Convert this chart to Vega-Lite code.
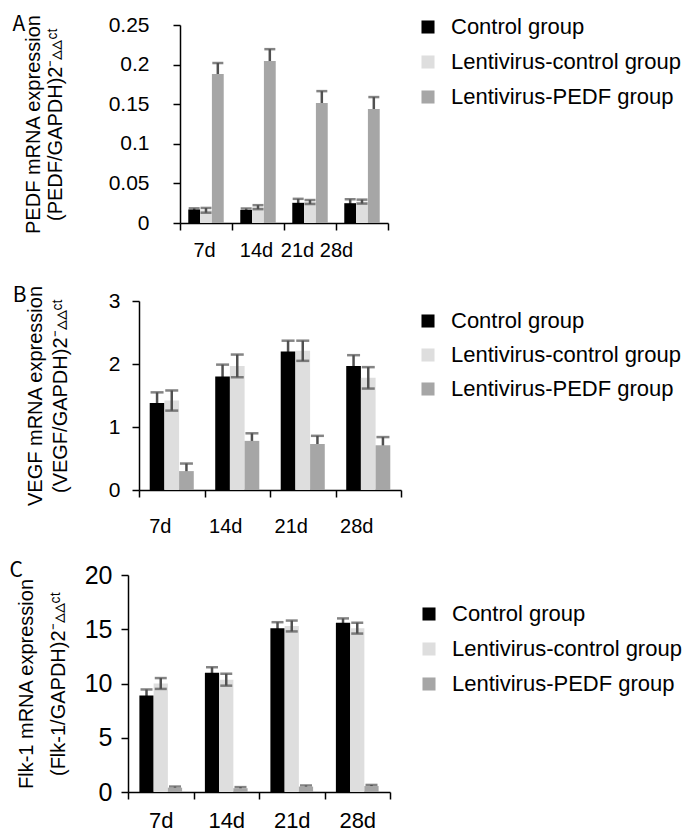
{
  "$schema": "https://vega.github.io/schema/vega-lite/v6.json",
  "background": "white",
  "padding": {"left": 2, "top": 13, "right": 0, "bottom": 0},
  "spacing": 24,
  "datasets": {
    "pedf": [
      {"day": "7d", "group": "Control group", "value": 0.017, "err": 0.0015},
      {"day": "14d", "group": "Control group", "value": 0.0165, "err": 0.0018},
      {"day": "21d", "group": "Control group", "value": 0.0255, "err": 0.005},
      {"day": "28d", "group": "Control group", "value": 0.025, "err": 0.005},
      {"day": "7d", "group": "Lentivirus-control group", "value": 0.016, "err": 0.003},
      {"day": "14d", "group": "Lentivirus-control group", "value": 0.02, "err": 0.0025},
      {"day": "21d", "group": "Lentivirus-control group", "value": 0.0265, "err": 0.0025},
      {"day": "28d", "group": "Lentivirus-control group", "value": 0.027, "err": 0.0025},
      {"day": "7d", "group": "Lentivirus-PEDF group", "value": 0.188, "err": 0.014},
      {"day": "14d", "group": "Lentivirus-PEDF group", "value": 0.2045, "err": 0.015},
      {"day": "21d", "group": "Lentivirus-PEDF group", "value": 0.1515, "err": 0.015},
      {"day": "28d", "group": "Lentivirus-PEDF group", "value": 0.144, "err": 0.015}
    ],
    "vegf": [
      {"day": "7d", "group": "Control group", "value": 1.38, "err": 0.17},
      {"day": "14d", "group": "Control group", "value": 1.8, "err": 0.19},
      {"day": "21d", "group": "Control group", "value": 2.2, "err": 0.17},
      {"day": "28d", "group": "Control group", "value": 1.97, "err": 0.17},
      {"day": "7d", "group": "Lentivirus-control group", "value": 1.42, "err": 0.16},
      {"day": "14d", "group": "Lentivirus-control group", "value": 1.97, "err": 0.18},
      {"day": "21d", "group": "Lentivirus-control group", "value": 2.21, "err": 0.16},
      {"day": "28d", "group": "Lentivirus-control group", "value": 1.78, "err": 0.17},
      {"day": "7d", "group": "Lentivirus-PEDF group", "value": 0.3, "err": 0.12},
      {"day": "14d", "group": "Lentivirus-PEDF group", "value": 0.78, "err": 0.12},
      {"day": "21d", "group": "Lentivirus-PEDF group", "value": 0.73, "err": 0.13},
      {"day": "28d", "group": "Lentivirus-PEDF group", "value": 0.71, "err": 0.13}
    ],
    "flk": [
      {"day": "7d", "group": "Control group", "value": 8.9, "err": 0.55},
      {"day": "14d", "group": "Control group", "value": 11.0, "err": 0.5},
      {"day": "21d", "group": "Control group", "value": 15.1, "err": 0.55},
      {"day": "28d", "group": "Control group", "value": 15.6, "err": 0.4},
      {"day": "7d", "group": "Lentivirus-control group", "value": 10.0, "err": 0.5},
      {"day": "14d", "group": "Lentivirus-control group", "value": 10.35, "err": 0.55},
      {"day": "21d", "group": "Lentivirus-control group", "value": 15.3, "err": 0.5},
      {"day": "28d", "group": "Lentivirus-control group", "value": 15.1, "err": 0.5},
      {"day": "7d", "group": "Lentivirus-PEDF group", "value": 0.4, "err": 0.1},
      {"day": "14d", "group": "Lentivirus-PEDF group", "value": 0.35, "err": 0.1},
      {"day": "21d", "group": "Lentivirus-PEDF group", "value": 0.5, "err": 0.1},
      {"day": "28d", "group": "Lentivirus-PEDF group", "value": 0.55, "err": 0.1}
    ]
  },
  "vconcat": [
    {"spacing": 0, "hconcat": [
    {"width": 7, "height": 1, "data": {"values": [{"s": 0}]}, "mark": {"type": "point", "opacity": 0}, "encoding": {}},
    {
      "title": {"text": "A", "orient": "left", "anchor": "end", "angle": 0, "align": "right", "baseline": "top", "offset": -15, "frame": "bounds", "font": "Noto Sans CJK SC", "fontSize": 21, "fontWeight": "normal", "color": "black"},
      "width": 208,
      "height": 198,
      "data": {"name": "pedf"},
      "transform": [
        {"calculate": "datum.value - datum.err", "as": "lo"},
        {"calculate": "datum.value + datum.err", "as": "hi"}
      ],
      "encoding": {
        "x": {"field": "day", "type": "nominal", "sort": ["7d", "14d", "21d", "28d"], "scale": {"paddingInner": 0, "paddingOuter": 0},
              "axis": {"title": null, "labelAngle": 0, "tickBand": "extent", "tickSize": 7, "labelPadding": 10,
                       "labelOffset": {"condition": [{"test": "datum.value === '21d'", "value": -13}, {"test": "datum.value === '28d'", "value": -26}], "value": -2}}},
        "xOffset": {"field": "group", "type": "nominal", "sort": ["Control group", "Lentivirus-control group", "Lentivirus-PEDF group"], "scale": {"paddingOuter": 0.7}}
      },
      "layer": [
        {
          "transform": [{"filter": "datum.group !== 'Lentivirus-control group'"}],
          "mark": {"type": "rule", "color": "#505050", "strokeWidth": 2.5},
          "encoding": {
            "y": {"field": "lo", "type": "quantitative", "scale": {"domain": [0, 0.25], "nice": false}, "title": ["PEDF mRNA expression", "(PEDF/GAPDH)2⁻▵▵ᶜᵗ"],
                  "axis": {"values": [0, 0.05, 0.1, 0.15, 0.2, 0.25], "format": "~g", "labelOverlap": false, "tickSize": 7, "labelPadding": 24, "titlePadding": 43, "titleLineHeight": 22}},
            "y2": {"field": "hi"}
          }
        },
        {
          "transform": [{"filter": "datum.group !== 'Lentivirus-control group'"}],
          "mark": {"type": "tick", "color": "#505050", "thickness": 2.5, "size": 11},
          "encoding": {
            "y": {"field": "hi", "type": "quantitative", "scale": {"domain": [0, 0.25], "nice": false}, "title": ["PEDF mRNA expression", "(PEDF/GAPDH)2⁻▵▵ᶜᵗ"],
                  "axis": {"values": [0, 0.05, 0.1, 0.15, 0.2, 0.25], "format": "~g", "labelOverlap": false, "tickSize": 7, "labelPadding": 24, "titlePadding": 43, "titleLineHeight": 22}}
          }
        },
        {
          "mark": {"type": "bar"},
          "encoding": {
            "y": {"field": "value", "type": "quantitative", "scale": {"domain": [0, 0.25], "nice": false}, "title": ["PEDF mRNA expression", "(PEDF/GAPDH)2⁻▵▵ᶜᵗ"],
                  "axis": {"values": [0, 0.05, 0.1, 0.15, 0.2, 0.25], "format": "~g", "labelOverlap": false, "tickSize": 7, "labelPadding": 24, "titlePadding": 43, "titleLineHeight": 22}},
            "color": {"field": "group", "type": "nominal", "sort": ["Control group", "Lentivirus-control group", "Lentivirus-PEDF group"],
                      "scale": {"domain": ["Control group", "Lentivirus-control group", "Lentivirus-PEDF group"], "range": ["#000000", "#dedede", "#a6a6a6"]},
                      "legend": {"title": null, "orient": "none", "legendX": 412, "legendY": -9, "rowPadding": 13}}
          }
        },
        {
          "transform": [{"filter": "datum.group === 'Lentivirus-control group'"}],
          "mark": {"type": "rule", "color": "#505050", "strokeWidth": 2.5},
          "encoding": {
            "y": {"field": "lo", "type": "quantitative", "scale": {"domain": [0, 0.25], "nice": false}, "title": ["PEDF mRNA expression", "(PEDF/GAPDH)2⁻▵▵ᶜᵗ"],
                  "axis": {"values": [0, 0.05, 0.1, 0.15, 0.2, 0.25], "format": "~g", "labelOverlap": false, "tickSize": 7, "labelPadding": 24, "titlePadding": 43, "titleLineHeight": 22}},
            "y2": {"field": "hi"}
          }
        },
        {
          "transform": [{"filter": "datum.group === 'Lentivirus-control group'"}],
          "mark": {"type": "tick", "color": "#505050", "thickness": 2.5, "size": 11},
          "encoding": {
            "y": {"field": "hi", "type": "quantitative", "scale": {"domain": [0, 0.25], "nice": false}, "title": ["PEDF mRNA expression", "(PEDF/GAPDH)2⁻▵▵ᶜᵗ"],
                  "axis": {"values": [0, 0.05, 0.1, 0.15, 0.2, 0.25], "format": "~g", "labelOverlap": false, "tickSize": 7, "labelPadding": 24, "titlePadding": 43, "titleLineHeight": 22}}
          }
        },
        {
          "transform": [{"filter": "datum.group === 'Lentivirus-control group'"}],
          "mark": {"type": "tick", "color": "#505050", "thickness": 2.5, "size": 11},
          "encoding": {
            "y": {"field": "lo", "type": "quantitative", "scale": {"domain": [0, 0.25], "nice": false}, "title": ["PEDF mRNA expression", "(PEDF/GAPDH)2⁻▵▵ᶜᵗ"],
                  "axis": {"values": [0, 0.05, 0.1, 0.15, 0.2, 0.25], "format": "~g", "labelOverlap": false, "tickSize": 7, "labelPadding": 24, "titlePadding": 43, "titleLineHeight": 22}}
          }
        }
      ]
    }]},
    {"spacing": 0, "hconcat": [
    {"width": 7, "height": 1, "data": {"values": [{"s": 0}]}, "mark": {"type": "point", "opacity": 0}, "encoding": {}},
    {
      "title": {"text": "B", "orient": "left", "anchor": "end", "angle": 0, "align": "right", "baseline": "top", "offset": -15, "frame": "bounds", "font": "Noto Sans CJK SC", "fontSize": 21, "fontWeight": "normal", "color": "black"},
      "width": 262,
      "height": 189,
      "data": {"name": "vegf"},
      "transform": [
        {"calculate": "datum.value - datum.err", "as": "lo"},
        {"calculate": "datum.value + datum.err", "as": "hi"}
      ],
      "encoding": {
        "x": {"field": "day", "type": "nominal", "sort": ["7d", "14d", "21d", "28d"], "scale": {"paddingInner": 0, "paddingOuter": 0},
              "axis": {"title": null, "labelAngle": 0, "tickBand": "extent", "tickSize": 7, "labelPadding": 19, "labelOffset": -12}},
        "xOffset": {"field": "group", "type": "nominal", "sort": ["Control group", "Lentivirus-control group", "Lentivirus-PEDF group"], "scale": {"paddingOuter": 0.73}}
      },
      "layer": [
        {
          "transform": [{"filter": "datum.group !== 'Lentivirus-control group'"}],
          "mark": {"type": "rule", "color": "#505050", "strokeWidth": 2.5},
          "encoding": {
            "y": {"field": "lo", "type": "quantitative", "scale": {"domain": [0, 3], "nice": false}, "title": ["VEGF mRNA expression", "(VEGF/GAPDH)2⁻▵▵ᶜᵗ"],
                  "axis": {"values": [0, 1, 2, 3], "format": "~g", "labelOverlap": false, "tickSize": 7, "labelPadding": 12, "titlePadding": 38, "titleLineHeight": 25}},
            "y2": {"field": "hi"}
          }
        },
        {
          "transform": [{"filter": "datum.group !== 'Lentivirus-control group'"}],
          "mark": {"type": "tick", "color": "#505050", "thickness": 2.5, "size": 13},
          "encoding": {
            "y": {"field": "hi", "type": "quantitative", "scale": {"domain": [0, 3], "nice": false}, "title": ["VEGF mRNA expression", "(VEGF/GAPDH)2⁻▵▵ᶜᵗ"],
                  "axis": {"values": [0, 1, 2, 3], "format": "~g", "labelOverlap": false, "tickSize": 7, "labelPadding": 12, "titlePadding": 38, "titleLineHeight": 25}}
          }
        },
        {
          "mark": {"type": "bar"},
          "encoding": {
            "y": {"field": "value", "type": "quantitative", "scale": {"domain": [0, 3], "nice": false}, "title": ["VEGF mRNA expression", "(VEGF/GAPDH)2⁻▵▵ᶜᵗ"],
                  "axis": {"values": [0, 1, 2, 3], "format": "~g", "labelOverlap": false, "tickSize": 7, "labelPadding": 12, "titlePadding": 38, "titleLineHeight": 25}},
            "color": {"field": "group", "type": "nominal", "sort": ["Control group", "Lentivirus-control group", "Lentivirus-PEDF group"],
                      "scale": {"domain": ["Control group", "Lentivirus-control group", "Lentivirus-PEDF group"], "range": ["#000000", "#dedede", "#a6a6a6"]},
                      "legend": {"title": null, "orient": "none", "legendX": 412, "legendY": 9, "rowPadding": 12}}
          }
        },
        {
          "transform": [{"filter": "datum.group === 'Lentivirus-control group'"}],
          "mark": {"type": "rule", "color": "#505050", "strokeWidth": 2.5},
          "encoding": {
            "y": {"field": "lo", "type": "quantitative", "scale": {"domain": [0, 3], "nice": false}, "title": ["VEGF mRNA expression", "(VEGF/GAPDH)2⁻▵▵ᶜᵗ"],
                  "axis": {"values": [0, 1, 2, 3], "format": "~g", "labelOverlap": false, "tickSize": 7, "labelPadding": 12, "titlePadding": 38, "titleLineHeight": 25}},
            "y2": {"field": "hi"}
          }
        },
        {
          "transform": [{"filter": "datum.group === 'Lentivirus-control group'"}],
          "mark": {"type": "tick", "color": "#505050", "thickness": 2.5, "size": 13},
          "encoding": {
            "y": {"field": "hi", "type": "quantitative", "scale": {"domain": [0, 3], "nice": false}, "title": ["VEGF mRNA expression", "(VEGF/GAPDH)2⁻▵▵ᶜᵗ"],
                  "axis": {"values": [0, 1, 2, 3], "format": "~g", "labelOverlap": false, "tickSize": 7, "labelPadding": 12, "titlePadding": 38, "titleLineHeight": 25}}
          }
        },
        {
          "transform": [{"filter": "datum.group === 'Lentivirus-control group'"}],
          "mark": {"type": "tick", "color": "#505050", "thickness": 2.5, "size": 13},
          "encoding": {
            "y": {"field": "lo", "type": "quantitative", "scale": {"domain": [0, 3], "nice": false}, "title": ["VEGF mRNA expression", "(VEGF/GAPDH)2⁻▵▵ᶜᵗ"],
                  "axis": {"values": [0, 1, 2, 3], "format": "~g", "labelOverlap": false, "tickSize": 7, "labelPadding": 12, "titlePadding": 38, "titleLineHeight": 25}}
          }
        }
      ]
    }]},
    {"spacing": 0, "hconcat": [
    {"width": 1, "height": 1, "data": {"values": [{"s": 0}]}, "mark": {"type": "point", "opacity": 0}, "encoding": {}},
    {
      "title": {"text": "C", "orient": "left", "anchor": "end", "angle": 0, "align": "right", "baseline": "top", "offset": -20, "dy": -3, "frame": "bounds", "font": "Noto Sans CJK SC", "fontSize": 21, "fontWeight": "normal", "color": "black"},
      "width": 262,
      "height": 217,
      "data": {"name": "flk"},
      "transform": [
        {"calculate": "datum.value - datum.err", "as": "lo"},
        {"calculate": "datum.value + datum.err", "as": "hi"}
      ],
      "encoding": {
        "x": {"field": "day", "type": "nominal", "sort": ["7d", "14d", "21d", "28d"], "scale": {"paddingInner": 0, "paddingOuter": 0},
              "axis": {"title": null, "labelAngle": 0, "tickBand": "extent", "tickSize": 7, "labelPadding": 11, "labelFontSize": 22}},
        "xOffset": {"field": "group", "type": "nominal", "sort": ["Control group", "Lentivirus-control group", "Lentivirus-PEDF group"], "scale": {"paddingOuter": 0.8}}
      },
      "layer": [
        {
          "transform": [{"filter": "datum.group !== 'Lentivirus-control group'"}],
          "mark": {"type": "rule", "color": "#505050", "strokeWidth": 2.5},
          "encoding": {
            "y": {"field": "lo", "type": "quantitative", "scale": {"domain": [0, 20], "nice": false}, "title": ["Flk-1 mRNA expression", "(Flk-1/GAPDH)2⁻▵▵ᶜᵗ"],
                  "axis": {"values": [0, 5, 10, 15, 20], "format": "~g", "labelOverlap": false, "labelFontSize": 25, "tickSize": 7, "labelPadding": 9, "titlePadding": 16, "titleLineHeight": 32}},
            "y2": {"field": "hi"}
          }
        },
        {
          "transform": [{"filter": "datum.group !== 'Lentivirus-control group'"}],
          "mark": {"type": "tick", "color": "#505050", "thickness": 2.5, "size": 12},
          "encoding": {
            "y": {"field": "hi", "type": "quantitative", "scale": {"domain": [0, 20], "nice": false}, "title": ["Flk-1 mRNA expression", "(Flk-1/GAPDH)2⁻▵▵ᶜᵗ"],
                  "axis": {"values": [0, 5, 10, 15, 20], "format": "~g", "labelOverlap": false, "labelFontSize": 25, "tickSize": 7, "labelPadding": 9, "titlePadding": 16, "titleLineHeight": 32}}
          }
        },
        {
          "mark": {"type": "bar"},
          "encoding": {
            "y": {"field": "value", "type": "quantitative", "scale": {"domain": [0, 20], "nice": false}, "title": ["Flk-1 mRNA expression", "(Flk-1/GAPDH)2⁻▵▵ᶜᵗ"],
                  "axis": {"values": [0, 5, 10, 15, 20], "format": "~g", "labelOverlap": false, "labelFontSize": 25, "tickSize": 7, "labelPadding": 9, "titlePadding": 16, "titleLineHeight": 32}},
            "color": {"field": "group", "type": "nominal", "sort": ["Control group", "Lentivirus-control group", "Lentivirus-PEDF group"],
                      "scale": {"domain": ["Control group", "Lentivirus-control group", "Lentivirus-PEDF group"], "range": ["#000000", "#dedede", "#a6a6a6"]},
                      "legend": {"title": null, "orient": "none", "legendX": 413, "legendY": 28, "rowPadding": 13}}
          }
        },
        {
          "transform": [{"filter": "datum.group === 'Lentivirus-control group'"}],
          "mark": {"type": "rule", "color": "#505050", "strokeWidth": 2.5},
          "encoding": {
            "y": {"field": "lo", "type": "quantitative", "scale": {"domain": [0, 20], "nice": false}, "title": ["Flk-1 mRNA expression", "(Flk-1/GAPDH)2⁻▵▵ᶜᵗ"],
                  "axis": {"values": [0, 5, 10, 15, 20], "format": "~g", "labelOverlap": false, "labelFontSize": 25, "tickSize": 7, "labelPadding": 9, "titlePadding": 16, "titleLineHeight": 32}},
            "y2": {"field": "hi"}
          }
        },
        {
          "transform": [{"filter": "datum.group === 'Lentivirus-control group'"}],
          "mark": {"type": "tick", "color": "#505050", "thickness": 2.5, "size": 12},
          "encoding": {
            "y": {"field": "hi", "type": "quantitative", "scale": {"domain": [0, 20], "nice": false}, "title": ["Flk-1 mRNA expression", "(Flk-1/GAPDH)2⁻▵▵ᶜᵗ"],
                  "axis": {"values": [0, 5, 10, 15, 20], "format": "~g", "labelOverlap": false, "labelFontSize": 25, "tickSize": 7, "labelPadding": 9, "titlePadding": 16, "titleLineHeight": 32}}
          }
        },
        {
          "transform": [{"filter": "datum.group === 'Lentivirus-control group'"}],
          "mark": {"type": "tick", "color": "#505050", "thickness": 2.5, "size": 12},
          "encoding": {
            "y": {"field": "lo", "type": "quantitative", "scale": {"domain": [0, 20], "nice": false}, "title": ["Flk-1 mRNA expression", "(Flk-1/GAPDH)2⁻▵▵ᶜᵗ"],
                  "axis": {"values": [0, 5, 10, 15, 20], "format": "~g", "labelOverlap": false, "labelFontSize": 25, "tickSize": 7, "labelPadding": 9, "titlePadding": 16, "titleLineHeight": 32}}
          }
        }
      ]
    }]}
  ],
  "resolve": {
    "scale": {"color": "independent", "x": "independent", "y": "independent", "xOffset": "independent"},
    "legend": {"color": "independent"},
    "axis": {"x": "independent", "y": "independent"}
  },
  "config": {
    "view": {"stroke": null},
    "font": "Liberation Sans",
    "axis": {
      "grid": false,
      "domainColor": "black",
      "domainWidth": 1.5,
      "tickColor": "black",
      "tickWidth": 1.5,
      "labelFont": "Liberation Sans",
      "labelFontSize": 21,
      "labelColor": "black",
      "titleFont": "Liberation Sans",
      "titleFontSize": 20,
      "titleFontWeight": "normal",
      "titleColor": "black"
    },
    "axisX": {"labelFontSize": 20},
    "legend": {
      "labelFont": "Liberation Sans",
      "labelFontSize": 22,
      "labelColor": "black",
      "symbolType": "square",
      "symbolSize": 170,
      "symbolStrokeWidth": 0,
      "labelOffset": 12,
      "rowPadding": 13,
      "padding": 0,
      "labelLimit": 400
    }
  }
}
